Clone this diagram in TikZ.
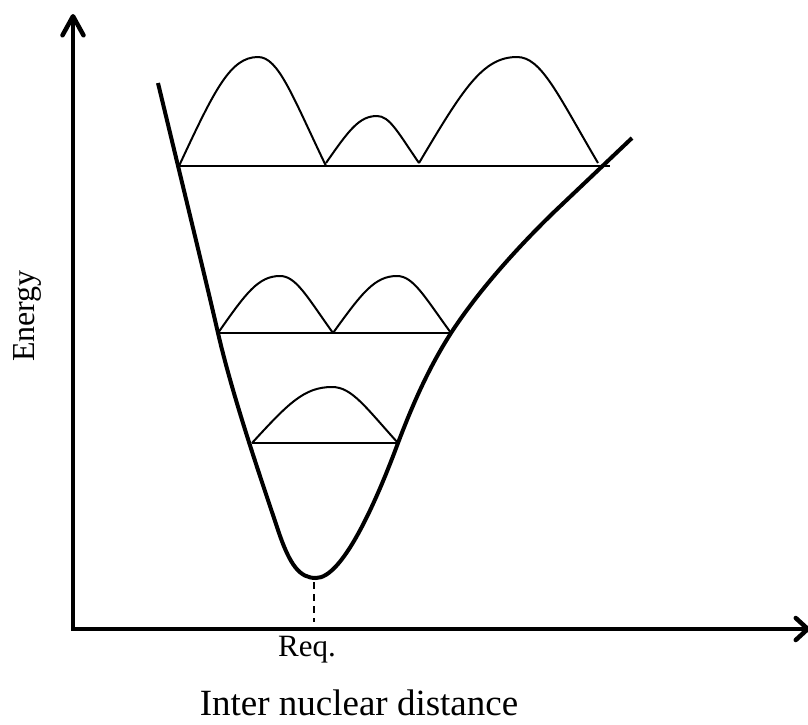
\documentclass[tikz,border=0pt]{standalone}
\usepackage{fontspec}
\setmainfont{Liberation Serif}
\usetikzlibrary{arrows.meta}
\newcommand{\drawhump}[5]{% x0 x1 ybase xpeak ypeak
  \draw[thinline] (#1,#3) .. controls ({#1+0.45*(#4-#1)},{#5+0.3*(#3-#5)}) and ({#1+0.65*(#4-#1)},#5) .. (#4,#5)
     .. controls ({#4+0.3*(#2-#4)},#5) and ({#2-0.5*(#2-#4)},{#5+0.35*(#3-#5)}) .. (#2,#3);}
\begin{document}
\begin{tikzpicture}[x=1pt,y=-1pt,
  axisline/.style={line width=4.5pt},
  well/.style={line width=4pt, line join=round},
  thinline/.style={line width=2pt, line join=round},
  lbl/.style={inner sep=0pt, anchor=base}
]
\useasboundingbox (0,0) rectangle (808,724);
% axes
\coordinate (O) at (73,629);
\coordinate (Ytop) at (73,14);
\coordinate (Xstart) at (71,629);
\coordinate (Xend) at (810,629);
\draw[axisline, -{Straight Barb[length=19pt,width=21pt,round]}] (O) -- (Ytop);
\draw[axisline, -{Straight Barb[length=12pt,width=22pt,round]}] (Xstart) -- (Xend);
% potential curve
\coordinate (P0) at (158,83);
\coordinate (Pa) at (218,333);
\coordinate (Pb) at (278,530);
\coordinate (Pmin) at (316,578);
\coordinate (P2) at (398,443);
\coordinate (P3) at (451,333);
\coordinate (P4) at (553,213);
\coordinate (P5) at (632,138);
\draw[well] (P0) .. controls (185,195) and (207,285) .. (Pa)
  .. controls (233,398) and (262,482) .. (Pb)
  .. controls (290,566) and (300,578) .. (Pmin)
  .. controls (342,578) and (375,505) .. (P2)
  .. controls (418,390) and (435,358) .. (P3)
  .. controls (475,296) and (510,255) .. (P4)
  -- (P5);
% levels
\coordinate (L3a) at (179,166); \coordinate (L3b) at (610,166);
\coordinate (L2a) at (218,333); \coordinate (L2b) at (451,333);
\coordinate (L1a) at (252,443); \coordinate (L1b) at (398,443);
\draw[thinline] (L3a) -- (L3b);
\draw[thinline] (L2a) -- (L2b);
\draw[thinline] (L1a) -- (L1b);
% wavefunction humps
\drawhump{179}{326}{166}{258}{57}
\drawhump{326}{419}{163}{377}{116}
\drawhump{419}{598}{163}{517}{57}
\drawhump{218}{333}{333}{280}{276}
\drawhump{333}{451}{333}{397}{276}
\drawhump{252}{398}{443}{332}{387}
% equilibrium marker
\coordinate (Rmin) at (314,582);
\coordinate (Rax) at (314,622);
\draw[line width=1.5pt, dash pattern=on 7pt off 5pt] (Rmin) -- (Rax);
% labels
\node[lbl, font=\fontsize{31}{31}\selectfont] (req) at (307,656) {Req.};
\node[lbl, font=\fontsize{37}{37}\selectfont] (xlab) at (359,715) {Inter nuclear distance};
\node[lbl, rotate=90, font=\fontsize{32}{32}\selectfont] (ylab) at (34,316) {Energy};
\end{tikzpicture}
\end{document}
